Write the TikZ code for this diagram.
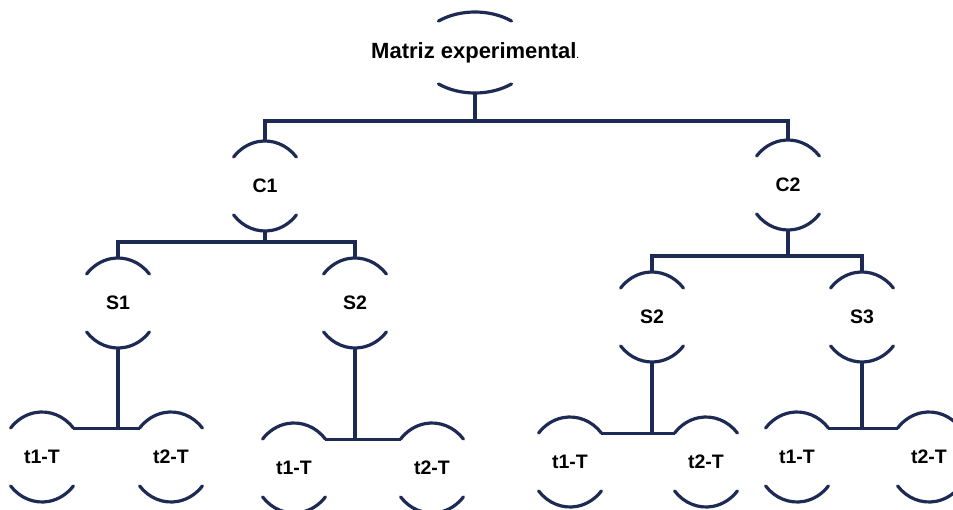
\documentclass[tikz,border=0pt]{standalone}
\usepackage{fontspec}
\setmainfont{Liberation Sans}
\definecolor{navy}{RGB}{28,42,84}
\newcommand\leafpair[3]{% parent, left leaf, right leaf
  \coordinate (#2-r) at ([shift={(31.4pt,28.9pt)}]#2.center);
  \coordinate (#3-l) at ([shift={(-31.4pt,28.9pt)}]#3.center);
  \draw[conn] (#2-r) -- (#3-l);
  \draw[conn] (#1.south) -- (#1.south |- #2-r);}
\begin{document}
\begin{tikzpicture}[x=1pt,y=1pt,
  lbl/.style={rectangle,inner sep=0pt,minimum width=82pt,minimum height=90pt,font=\fontsize{19.5}{19.5}\selectfont\bfseries},
  rootlbl/.style={rectangle,inner sep=0pt,minimum height=81pt,font=\fontsize{22}{22}\selectfont\bfseries},
  conn/.style={draw=navy,line width=3.2pt},
  capline/.style={draw=navy,line width=3.2pt,line cap=round}]
\useasboundingbox (0,0) rectangle (953,-510);

% nodes
\node[rootlbl] (m) at (475,-52.5) {Matriz experimental{\fontsize{8}{8}\selectfont.}};
\node[lbl] (c1) at (265,-186) {C1};
\node[lbl] (c2) at (788,-185) {C2};
\node[lbl] (s1) at (118,-303) {S1};
\node[lbl] (s2a) at (355,-303) {S2};
\node[lbl] (s2b) at (652,-317) {S2};
\node[lbl] (s3) at (862,-317) {S3};
\node[lbl] (t1a) at (42,-457) {t1-T};
\node[lbl] (t2a) at (171,-457) {t2-T};
\node[lbl] (t1b) at (294,-468) {t1-T};
\node[lbl] (t2b) at (432,-468) {t2-T};
\node[lbl] (t1c) at (570,-462) {t1-T};
\node[lbl] (t2c) at (706,-462) {t2-T};
\node[lbl] (t1d) at (797,-457) {t1-T};
\node[lbl] (t2d) at (929,-457) {t2-T};

% caps
\draw[capline] ([shift={(51:58pt and 40.5pt)}]m.center) arc[start angle=51,end angle=129,x radius=58pt,y radius=40.5pt];
\draw[capline] ([shift={(231:58pt and 40.5pt)}]m.center) arc[start angle=231,end angle=309,x radius=58pt,y radius=40.5pt];
\foreach \n in {c1,c2,s1,s2a,s2b,s3,t1a,t2a,t1b,t2b,t1c,t2c,t1d,t2d}{
  \draw[capline] ([shift={(40:41pt and 45pt)}]\n.center) arc[start angle=40,end angle=140,x radius=41pt,y radius=45pt];
  \draw[capline] ([shift={(220:41pt and 45pt)}]\n.center) arc[start angle=220,end angle=320,x radius=41pt,y radius=45pt];
}

% connectors
\draw[conn] (m.south) -- (m.south |- 0,-121);
\draw[conn] (c1.north) |- (c2.north |- 0,-121) -- (c2.north);
\draw[conn] (c1.south) -- (c1.south |- 0,-242);
\draw[conn] (s1.north) |- (s2a.north |- 0,-242) -- (s2a.north);
\draw[conn] (c2.south) -- (c2.south |- 0,-256);
\draw[conn] (s2b.north) |- (s3.north |- 0,-256) -- (s3.north);
\leafpair{s1}{t1a}{t2a}
\leafpair{s2a}{t1b}{t2b}
\leafpair{s2b}{t1c}{t2c}
\leafpair{s3}{t1d}{t2d}
\end{tikzpicture}
\end{document}
